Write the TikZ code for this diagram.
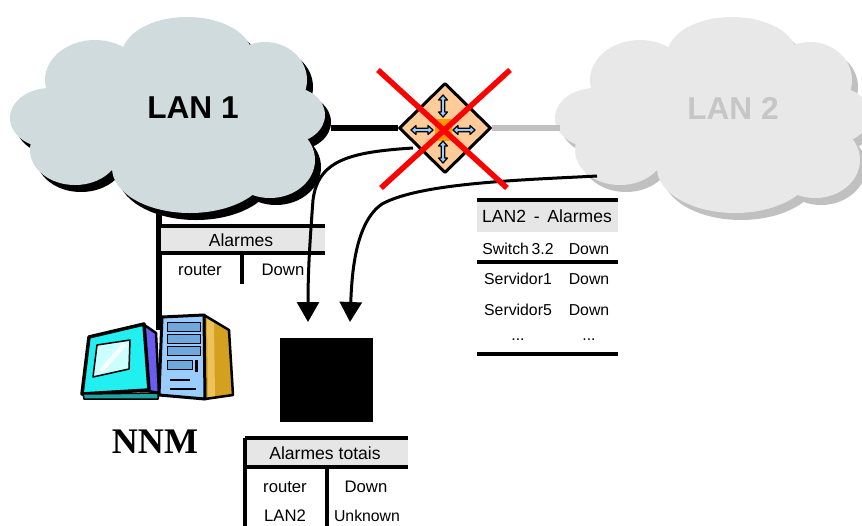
\documentclass[tikz,border=0pt]{standalone}
\usepackage{fontspec}
\setmainfont{Liberation Sans}
\newfontfamily\nnmfont{Liberation Serif}
\usetikzlibrary{arrows.meta,shapes.geometric}

\definecolor{lanone}{HTML}{D0DBDD}
\definecolor{lantwo}{HTML}{E8E8E8}
\definecolor{lantwoshade}{HTML}{C0C0C0}
\definecolor{lantwolabel}{HTML}{C6C6C6}
\definecolor{routerbody}{HTML}{FFCC99}
\definecolor{routercore}{HTML}{FF9900}
\definecolor{portblue}{HTML}{99CCFF}
\definecolor{headgray}{HTML}{E6E6E6}
\definecolor{screencyan}{HTML}{22F0F0}
\definecolor{screenglass}{HTML}{CCFFFF}
\definecolor{monitorside}{HTML}{6A5CF0}
\definecolor{monitorbase}{HTML}{1FA3A3}
\definecolor{towerfront}{HTML}{99CCFF}
\definecolor{towerbay}{HTML}{6FA8DC}
\definecolor{towerside}{HTML}{D4A020}
\definecolor{towerlight}{HTML}{EBC35A}

\newcommand{\puffs}{175/115/120/65, 95/80/50/40, 187/55/65/38, 265/80/42/38, 290/115/35/28, 270/160/45/38, 190/168/78/45, 75/150/45/35, 50/118/40/30}

\tikzset{
  puffshade/.style={fill=black},
  puffbody/.style={fill=lanone},
  lan cloud/.pic={
    \foreach \cx/\cy/\rx/\ry in \puffs
      \fill[puffshade] (\cx+6,\cy+7) ellipse [x radius=\rx, y radius=\ry];
    \foreach \cx/\cy/\rx/\ry in \puffs
      \fill[puffbody] (\cx,\cy) ellipse [x radius=\rx, y radius=\ry];
  },
  portarrow/.pic={
    \filldraw[fill=portblue, line width=0.025cm] (-11,0) -- (-6,-4.5) -- (-6,-1.8) -- (6,-1.8) -- (6,-4.5) -- (11,0)
      -- (6,4.5) -- (6,1.8) -- (-6,1.8) -- (-6,4.5) -- cycle;
  },
  lanlabel/.style={font=\fontsize{18}{20}\selectfont\bfseries},
  headtext/.style={font=\fontsize{10}{12}\selectfont},
  celltext/.style={font=\fontsize{9.5}{11}\selectfont},
  smallcell/.style={font=\fontsize{9}{11}\selectfont},
  link/.style={line width=0.11cm},
  rule/.style={line width=0.07cm},
  feed/.style={line width=0.06cm, -{Triangle[width=0.44cm,length=0.4cm]}},
  cross/.style={red, line width=0.11cm},
}

\begin{document}
\begin{tikzpicture}[line join=round,x=0.02cm,y=-0.02cm]
  \useasboundingbox (0,0) rectangle (862,525);

  \pic at (0,0) {lan cloud};
  \pic[puffshade/.style={fill=lantwoshade}, puffbody/.style={fill=lantwo}] at (545,0) {lan cloud};
  \node[lanlabel] (lan1) at (193,108) {LAN 1};
  \node[lanlabel, text=lantwolabel] (lan2) at (733,108) {LAN 2};

  \coordinate (lan1 edge) at (331,128);
  \coordinate (lan2 edge) at (560,128);
  \coordinate (lan1 foot) at (159,212);
  \coordinate (nnm top) at (159,330);
  \coordinate (router tap) at (413,148);
  \coordinate (lan2 tap) at (597,176);
  \coordinate (feed one) at (308,322);
  \coordinate (feed two) at (350,322);

  \node[diamond, draw, fill=routerbody, line width=0.06cm, inner sep=0pt, minimum width=1.84cm, minimum height=1.8cm] (router) at (445,128) {};
  \fill[routercore] (435,119) rectangle (452,141);
  \pic[rotate=90] at (443,106) {portarrow};
  \pic[rotate=90] at (443,152) {portarrow};
  \pic at (422,130) {portarrow};
  \pic at (464,130) {portarrow};

  \draw[link] (lan1 edge) -- (router.west);
  \draw[link, lantwoshade] (router.east) -- (lan2 edge);
  \draw[link] (lan1 foot) -- (nnm top);

  % NNM station
  \filldraw[fill=monitorside, line width=0.05cm] (143,324) -- (156,333) -- (159,393) -- (148,391) -- cycle;
  \filldraw[fill=screencyan, line width=0.07cm] (89,337) -- (144,324) -- (149,390) -- (82,394) -- cycle;
  \filldraw[fill=screenglass, line width=0.03cm] (97,345) -- (130,340) -- (129,369) -- (93,377) -- cycle;
  \draw[white, line width=0.08cm] (101,371) -- (125,344);
  \filldraw[fill=monitorbase, line width=0.03cm] (83,394) -- (158,393) -- (158,399) -- (84,399) -- cycle;
  \filldraw[fill=towerside, line width=0.05cm] (204,315) -- (229,330) -- (233,395) -- (205,399) -- cycle;
  \fill[towerlight] (207,319) -- (214,323) -- (215,396) -- (208,397) -- cycle;
  \filldraw[fill=towerfront, line width=0.06cm] (162,317) -- (204,315) -- (205,399) -- (159,395) -- cycle;
  \foreach \by in {322,334,346}
    \filldraw[fill=towerbay, line width=0.02cm] (167,\by) rectangle (200,\by+9);
  \filldraw[fill=towerbay, line width=0.02cm] (167,360) rectangle (192,369);
  \fill (195,360) rectangle (198,372);
  \draw[line width=0.03cm] (170,380) -- (190,380);
  \draw[line width=0.03cm] (170,389) -- (196,389);
  \node[font=\nnmfont\fontsize{20.5}{22}\selectfont\bfseries] (nnm) at (155,442) {NNM};

  % local alarm table
  \fill[headgray] (161,226) rectangle (325,253);
  \draw[rule] (159,226) -- (325,226);
  \draw[rule] (161,253) -- (325,253);
  \draw[rule] (242,253) -- (242,284);
  \node[headtext] (nnm head) at (241,240) {Alarmes};
  \node[celltext] (nnm dev) at (200,270) {router};
  \node[celltext] (nnm state) at (283,270) {Down};

  % collector
  \node[fill=black, inner sep=0pt, minimum width=1.86cm, minimum height=1.68cm] (collector) at (326.5,380) {};

  % merged alarm table
  \fill[headgray] (247,439) rectangle (408,467);
  \draw[rule] (245,438) -- (408,438);
  \draw[rule] (245,467) -- (408,467);
  \draw[rule] (245,438) -- (245,526);
  \draw[rule] (327,467) -- (327,526);
  \node[headtext] (total head) at (325,453) {Alarmes totais};
  \node[celltext] (total dev a) at (285,487) {router};
  \node[celltext] (total state a) at (366,487) {Down};
  \node[celltext] (total dev b) at (285,516) {LAN2};
  \node[smallcell] (total state b) at (367,516) {Unknown};

  % LAN2 alarm table
  \fill[headgray] (477,202) rectangle (618,232);
  \draw[rule] (477,200) -- (618,200);
  \draw[rule] (477,262) -- (618,262);
  \draw[rule] (477,354) -- (618,354);
  \node[headtext] (lan2 head) at (547,216) {LAN2 \,-\, Alarmes};
  \node[smallcell] (lan2 dev a) at (518,249) {Switch\,3.2};
  \node[smallcell] (lan2 state a) at (589,249) {Down};
  \node[smallcell] (lan2 dev b) at (518,279) {Servidor1};
  \node[smallcell] (lan2 state b) at (589,279) {Down};
  \node[smallcell] (lan2 dev c) at (518,310) {Servidor5};
  \node[smallcell] (lan2 state c) at (589,310) {Down};
  \node[smallcell] (lan2 dev d) at (518,340) {...};
  \node[smallcell] (lan2 state d) at (589,340) {...};

  \draw[feed] (router tap) .. controls (350,152) and (318,160) .. (313,200) .. controls (310,240) and (308,270) .. (feed one);
  \draw[feed] (lan2 tap) .. controls (520,180) and (420,183) .. (382,204) .. controls (356,222) and (352,270) .. (feed two);

  \draw[cross] (378,70) -- (507,188);
  \draw[cross] (510,70) -- (381,188);
\end{tikzpicture}
\end{document}
